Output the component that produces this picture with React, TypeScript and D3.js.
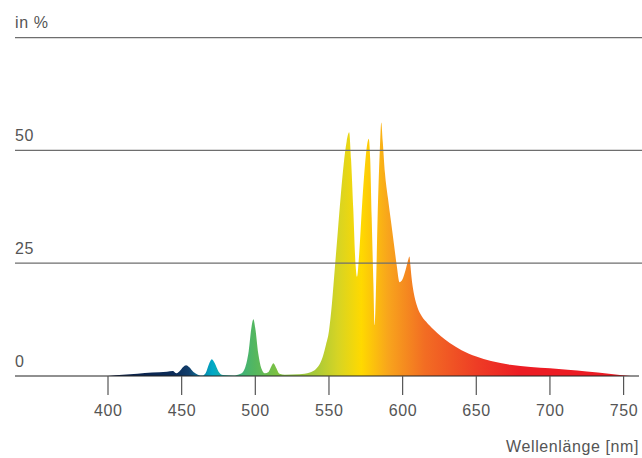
import React, { useRef, useEffect } from 'react';
import * as d3 from 'd3';

// spectrum samples: wavelength in nm, relative intensity in %
const wavelengths = [
    400, 410, 420, 430, 440, 444, 446.5, 449, 451, 453, 455, 458, 461, 464,
    466.5, 468.5, 470.5, 472.5, 475, 478, 485, 490, 493, 495.5, 497.5, 498.7,
    500, 502, 504, 506.5, 509, 511, 512.3, 514, 516.5, 520, 530, 537, 541, 544,
    546, 548, 550, 552, 554, 556, 558, 560, 562, 563.7, 565, 566.5, 568, 569,
    570.5, 572.5, 574.5, 576, 577, 578, 579, 580.2, 581, 581.8, 583, 584.5,
    585.5, 586.5, 588, 590, 592, 594, 596, 597.9, 600, 602, 604, 604.6, 605.3,
    606, 607.5, 609.5, 612, 616, 621, 626, 632, 640, 650, 660, 673, 687, 700,
    712, 725, 740, 755,
];
const intensity = [
    0, 0.25, 0.5, 0.75, 0.95, 1.1, 0.6, 1.2, 2.0, 2.4, 2.0, 0.9, 0.3, 0.1,
    0.8, 2.6, 3.7, 2.8, 1.0, 0.2, 0.1, 0.5, 1.8, 5.5, 11, 12.6,
    10.5, 5, 1.8, 0.6, 0.9, 2.2, 2.8, 1.9, 0.5, 0.3, 0.4, 0.8, 1.5, 2.8,
    4.5, 7, 10, 16, 24, 32, 40, 47, 52, 54, 48, 37, 25, 22,
    27, 38, 47, 51.5, 52.6, 48, 35, 20, 11.3, 18, 35, 50,
    56.2, 52, 45, 39.5, 34.5, 29.5, 24.5, 20.8, 21.5, 23.5, 26, 26.5, 24.5,
    22, 18.5, 15.8, 13.8, 12.0, 10.3, 8.8, 7.3, 5.7, 4.3, 3.3, 2.5, 2.0, 1.7,
    1.4, 1.0, 0.5, 0,
];

const xTicks = [400, 450, 500, 550, 600, 650, 700, 750];
const gridValues = [0, 25, 50, 75];
const gridLabels = ['0', '25', '50', 'in %'];

// colour of the fill along the wavelength axis
const stopNm = [400, 445, 455, 464, 471, 482, 500, 515, 540, 556, 572, 590, 615, 650, 680, 755];
const stopColor = [
    '#0a1d45', '#0c2c58', '#123f6c', '#0a86a8', '#00a9c7', '#2eae8f', '#55b75e', '#7dc142',
    '#a6c93a', '#d6d424', '#ffd900', '#f8a51c', '#f26d23', '#ee3d25', '#ec1c24', '#ec1c24',
];

const SpectrumChart: React.FC<{ width: number; height: number }> = ({ width, height }) => {
    const ref = useRef<SVGSVGElement>(null);

    useEffect(() => {
        if (!ref.current) return;
        const svg = d3.select(ref.current);
        svg.selectAll("*").remove();

        const x = d3.scaleLinear().domain([400, 750]).range([108, 623.6]);
        const y = d3.scaleLinear().domain([0, 75]).range([376, 37.6]);
        const font = "'Liberation Sans', Arial, sans-serif";
        const textStyle = (sel: d3.Selection<SVGTextElement, any, any, any>) =>
            sel.attr("font-family", font)
               .attr("font-size", 16)
               .attr("letter-spacing", 0.6)
               .attr("fill", "#555");

        const grad = svg.append("defs").append("linearGradient")
            .attr("id", "spec")
            .attr("gradientUnits", "userSpaceOnUse")
            .attr("x1", x(400)).attr("x2", x(755))
            .attr("y1", 0).attr("y2", 0);
        stopNm.forEach((nm, i) => {
            grad.append("stop")
                .attr("offset", (nm - 400) / 355)
                .attr("stop-color", stopColor[i]);
        });

        const data = wavelengths.map((w, i) => [w, intensity[i]] as [number, number]);
        const area = d3.area<[number, number]>()
            .x(d => x(d[0]))
            .y0(y(0))
            .y1(d => y(d[1]))
            .curve(d3.curveMonotoneX);

        svg.append("path")
            .datum(data)
            .attr("d", area)
            .attr("fill", "url(#spec)");

        // grid lines and their labels
        gridValues.forEach((v, i) => {
            svg.append("line")
                .attr("x1", 15).attr("x2", v === 0 ? 639 : width)
                .attr("y1", y(v)).attr("y2", y(v))
                .attr("stroke", v === 0 ? "#222" : "#6e6e6e")
                .attr("stroke-width", 1.2);
            svg.append("text")
                .attr("x", 15).attr("y", y(v) - 9.5)
                .call(textStyle)
                .text(gridLabels[i]);
        });

        // x axis ticks
        svg.selectAll(".tick")
            .data(xTicks)
            .enter()
            .append("line")
            .attr("x1", d => x(d)).attr("x2", d => x(d))
            .attr("y1", y(0)).attr("y2", 395)
            .attr("stroke", "#555")
            .attr("stroke-width", 1.2);

        svg.selectAll(".ticklabel")
            .data(xTicks)
            .enter()
            .append("text")
            .attr("x", d => x(d) + 0.3).attr("y", 416)
            .attr("text-anchor", "middle")
            .call(textStyle)
            .text(d => d);

        svg.append("text")
            .attr("x", 639).attr("y", 451.5)
            .attr("text-anchor", "end")
            .call(textStyle)
            .text("Wellenlänge [nm]");
    }, [width, height]);

    return <svg ref={ref} width={width} height={height} style={{ position: 'absolute', left: 0, top: 0 }}></svg>;
};

export default function App() {
    return <SpectrumChart width={642} height={458} />;
}
